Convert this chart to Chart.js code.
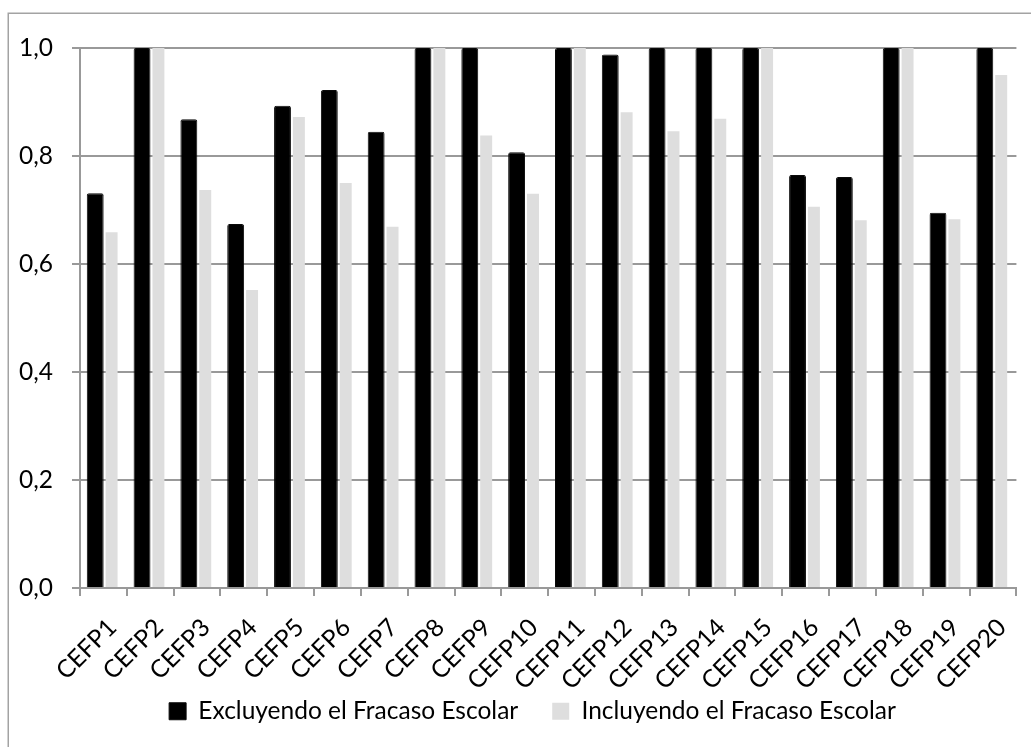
<!DOCTYPE html>
<html lang="es">
<head>
<meta charset="utf-8">
<title>CEFP</title>
<script src="https://cdn.jsdelivr.net/npm/chart.js@4.4.1/dist/chart.umd.min.js"></script>
<style>
  html, body { margin: 0; padding: 0; background: #fff; }
  #wrap { position: relative; width: 1031px; height: 747px; overflow: hidden; }
  canvas { display: block; }
</style>
</head>
<body>
<div id="wrap"><canvas id="chart" width="1031" height="747"></canvas></div>
<script>
// Centros
const categories = ['CEFP1','CEFP2','CEFP3','CEFP4','CEFP5','CEFP6','CEFP7','CEFP8','CEFP9','CEFP10',
                    'CEFP11','CEFP12','CEFP13','CEFP14','CEFP15','CEFP16','CEFP17','CEFP18','CEFP19','CEFP20'];

// Eficiencia excluyendo el fracaso escolar
const excluyendo = [0.731, 1.0, 0.868, 0.674, 0.893, 0.922, 0.845, 1.0, 1.0, 0.807,
                    1.0, 0.988, 1.0, 1.0, 1.0, 0.765, 0.761, 1.0, 0.695, 1.0];

// Eficiencia incluyendo el fracaso escolar
const incluyendo = [0.659, 1.0, 0.737, 0.552, 0.872, 0.750, 0.669, 1.0, 0.838, 0.730,
                    1.0, 0.881, 0.846, 0.869, 1.0, 0.706, 0.681, 1.0, 0.683, 0.950];

const seriesNames = ['Excluyendo el Fracaso Escolar', 'Incluyendo el Fracaso Escolar'];
const yTicks = [0, 0.2, 0.4, 0.6, 0.8, 1.0];

const FONT = 'Lato, "Open Sans", sans-serif';
const FONT_SIZE = 24.5;
const GRID = '#999999';

// Outer frame of the chart object (only its top and left edges fall inside the canvas)
const framePlugin = {
  id: 'frame',
  beforeDraw(chart) {
    const ctx = chart.ctx;
    ctx.save();
    ctx.strokeStyle = '#a3a3a3';
    ctx.lineWidth = 1.5;
    ctx.strokeRect(8.25, 13.25, 1200, 1000);
    ctx.restore();
  },
  // centre the legend on the whole frame and set its row just under the axis labels
  afterLayout(chart) {
    const lg = chart.legend;
    if (!lg) return;
    lg.left += 21; lg.right += 21;
    lg.top = 665;
    lg.bottom = chart.height;
  }
};

new Chart(document.getElementById('chart'), {
  type: 'bar',
  data: {
    labels: categories,
    datasets: [
      {
        label: seriesNames[0],
        data: excluyendo,
        backgroundColor: '#000000',
        borderColor: '#0a0a0a',
        borderWidth: 1,
        borderRadius: 2,
        categoryPercentage: 0.7,
        barPercentage: 1.03
      },
      {
        label: seriesNames[1],
        data: incluyendo,
        backgroundColor: '#dedede',
        borderWidth: 0,
        categoryPercentage: 0.7,
        barPercentage: 0.73
      }
    ]
  },
  options: {
    responsive: false,
    animation: false,
    devicePixelRatio: 1,
    layout: { padding: { top: 48, right: 8, bottom: 8, left: 0 } },
    scales: {
      x: {
        offset: true,
        grid: {
          offset: true,
          drawOnChartArea: false,
          drawTicks: true,
          tickLength: 8,
          color: GRID,
          lineWidth: 2
        },
        border: { display: true, color: GRID, width: 2 },
        ticks: {
          color: '#000',
          font: { family: FONT, size: FONT_SIZE },
          minRotation: 45,
          maxRotation: 45,
          padding: 17,
          labelOffset: 9,
          autoSkip: false
        },
        afterFit(scale) { scale.height = 111; }
      },
      y: {
        min: 0,
        max: 1,
        afterBuildTicks(scale) { scale.ticks = yTicks.map(v => ({ value: v })); },
        grid: {
          color: GRID,
          lineWidth: 2,
          drawTicks: true,
          tickLength: 8
        },
        border: { display: true, color: GRID, width: 2 },
        ticks: {
          color: '#000',
          font: { family: FONT, size: FONT_SIZE },
          padding: 19,
          callback: v => Number(v).toFixed(1).replace('.', ',')
        },
        afterFit(scale) { scale.width = 80; }
      }
    },
    plugins: {
      legend: {
        position: 'bottom',
        maxHeight: 40,
        labels: {
          color: '#000',
          font: { family: FONT, size: FONT_SIZE },
          boxWidth: 17,
          boxHeight: 17,
          padding: 34
        }
      },
      tooltip: { enabled: false }
    }
  },
  plugins: [framePlugin]
});
</script>
</body>
</html>
